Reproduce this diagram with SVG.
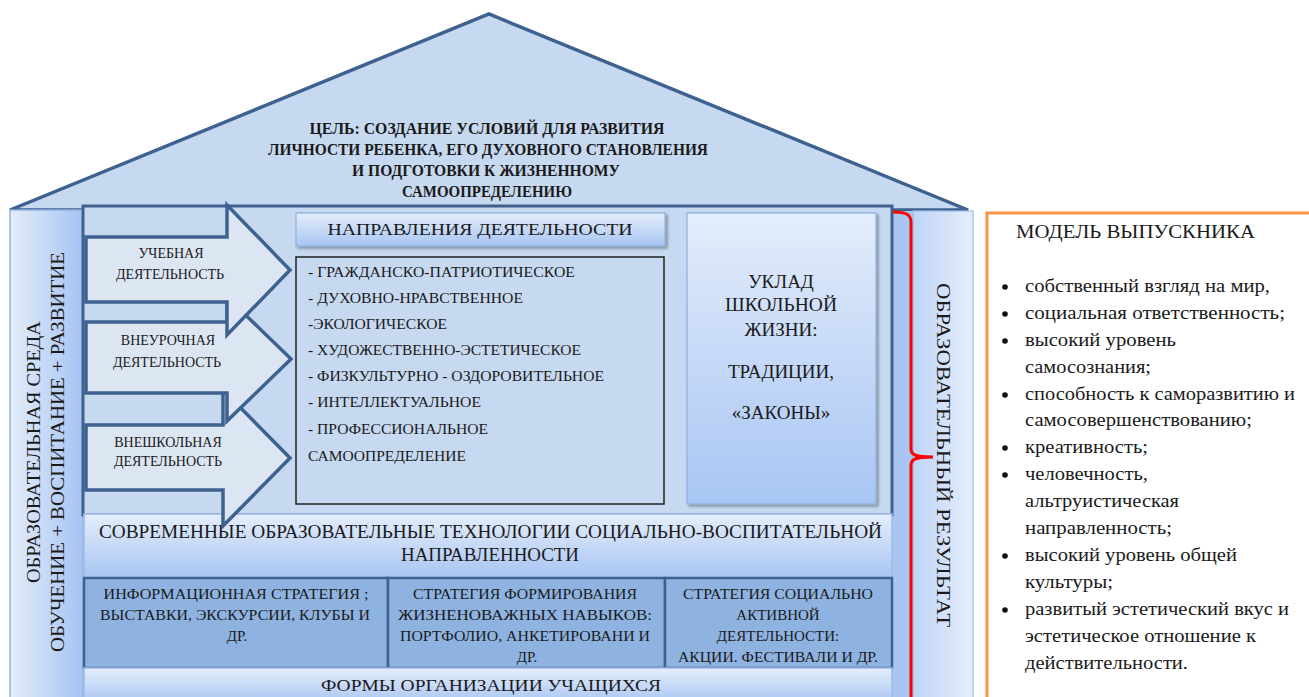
<svg xmlns="http://www.w3.org/2000/svg" width="1309" height="697" viewBox="0 0 1309 697" font-family="'Liberation Serif', 'DejaVu Serif', 'Times New Roman', serif">
<defs>
<linearGradient id="gV" x1="0" y1="0" x2="0" y2="1"><stop offset="0" stop-color="#e4edfb"/><stop offset="1" stop-color="#a8c5f3"/></linearGradient>
<linearGradient id="gL" x1="0" y1="0" x2="1" y2="0"><stop offset="0" stop-color="#e4edfa"/><stop offset="1" stop-color="#a6c3f2"/></linearGradient>
<linearGradient id="gR" x1="0" y1="0" x2="1" y2="0"><stop offset="0" stop-color="#bfd4f6"/><stop offset="1" stop-color="#e5eefb"/></linearGradient>
<filter id="sh" x="-10%" y="-10%" width="130%" height="130%"><feDropShadow dx="2" dy="2" stdDeviation="1.5" flood-color="#000" flood-opacity="0.35"/></filter>
<style>
text{font-family:'Liberation Serif','DejaVu Serif','Times New Roman',serif;fill:#1a1a1a}
.c{text-anchor:middle}
.arrow{fill:#dce6f3;stroke:#3e6190;stroke-width:3.5;stroke-linejoin:miter}
.lb{stroke:#9dbbe6;stroke-width:1.5}
.cell{fill:#8eb3e1;stroke:#3e6190;stroke-width:2.5}
.t14{font-size:14px}
.t15{font-size:15px}
.t18{font-size:18px}
.t19{font-size:19px}
.li{font-size:18px}
.roof{font-size:16px;font-weight:bold}
</style>
</defs>
<rect width="1309" height="697" fill="#ffffff"/>

<g id="roof">
<polygon points="10,210 489,14 968,210" fill="#c6d9f0" stroke="#3e6190" stroke-width="3.5" stroke-linejoin="miter"/>
<text class="c roof" x="487" y="134" textLength="355" lengthAdjust="spacingAndGlyphs">ЦЕЛЬ: СОЗДАНИЕ  УСЛОВИЙ ДЛЯ РАЗВИТИЯ</text>
<text class="c roof" x="488" y="155" textLength="440" lengthAdjust="spacingAndGlyphs">ЛИЧНОСТИ РЕБЕНКА, ЕГО ДУХОВНОГО СТАНОВЛЕНИЯ</text>
<text class="c roof" x="486" y="176" textLength="268" lengthAdjust="spacingAndGlyphs">И ПОДГОТОВКИ К ЖИЗНЕННОМУ</text>
<text class="c roof" x="487" y="197" textLength="170" lengthAdjust="spacingAndGlyphs">САМООПРЕДЕЛЕНИЮ</text>
</g>

<g id="left-column">
<rect x="10" y="210" width="73" height="495" fill="url(#gL)" stroke="#93b3e0" stroke-width="1.5"/>
<text class="c t18" transform="translate(40,452) rotate(-90)" textLength="262" lengthAdjust="spacingAndGlyphs">ОБРАЗОВАТЕЛЬНАЯ СРЕДА</text>
<text class="c t18" transform="translate(64,452) rotate(-90)" textLength="400" lengthAdjust="spacingAndGlyphs">ОБУЧЕНИЕ  + ВОСПИТАНИЕ + РАЗВИТИЕ</text>
</g>

<g id="right-column">
<rect x="891" y="211" width="22" height="494" fill="#a9c6f3"/>
<rect x="913" y="211" width="60" height="494" fill="url(#gR)" stroke="#9dbbe6" stroke-width="1.2"/>
<text class="c t19" transform="translate(937,455) rotate(90)" textLength="344" lengthAdjust="spacingAndGlyphs">ОБРАЗОВАТЕЛЬНЫЙ РЕЗУЛЬТАТ</text>
</g>

<g id="main-box">
<rect x="83" y="206" width="809" height="309" fill="#c6d9f0" stroke="#3e6190" stroke-width="3"/>
</g>

<g id="technologies">
<rect x="84" y="514" width="808" height="64" fill="url(#gV)" class="lb"/>
<text class="t18" x="99" y="538" textLength="783" lengthAdjust="spacingAndGlyphs">СОВРЕМЕННЫЕ ОБРАЗОВАТЕЛЬНЫЕ ТЕХНОЛОГИИ  СОЦИАЛЬНО-ВОСПИТАТЕЛЬНОЙ</text>
<text class="c t18" x="490" y="561" textLength="178" lengthAdjust="spacingAndGlyphs">НАПРАВЛЕННОСТИ</text>
</g>

<g id="strategy-info">
<rect class="cell" x="84" y="578" width="304" height="90"/>
<text class="c t15" x="236" y="599" textLength="265" lengthAdjust="spacingAndGlyphs">ИНФОРМАЦИОННАЯ СТРАТЕГИЯ ;</text>
<text class="c t15" x="235" y="620" textLength="270" lengthAdjust="spacingAndGlyphs">ВЫСТАВКИ, ЭКСКУРСИИ, КЛУБЫ И</text>
<text class="c t15" x="237" y="641">ДР.</text>
</g>
<g id="strategy-skills">
<rect class="cell" x="388" y="578" width="277" height="90"/>
<text class="c t15" x="525" y="599" textLength="224" lengthAdjust="spacingAndGlyphs">СТРАТЕГИЯ ФОРМИРОВАНИЯ</text>
<text class="c t15" x="525" y="620" textLength="254" lengthAdjust="spacingAndGlyphs">ЖИЗНЕНОВАЖНЫХ НАВЫКОВ:</text>
<text class="c t15" x="525" y="641" textLength="250" lengthAdjust="spacingAndGlyphs">ПОРТФОЛИО, АНКЕТИРОВАНИ И</text>
<text class="c t15" x="527" y="662">ДР.</text>
</g>
<g id="strategy-social">
<rect class="cell" x="665" y="578" width="227" height="90"/>
<text class="c t15" x="778" y="599" textLength="190" lengthAdjust="spacingAndGlyphs">СТРАТЕГИЯ СОЦИАЛЬНО</text>
<text class="c t15" x="778" y="620">АКТИВНОЙ</text>
<text class="c t15" x="778" y="641">ДЕЯТЕЛЬНОСТИ:</text>
<text class="c t15" x="778" y="662" textLength="200" lengthAdjust="spacingAndGlyphs">АКЦИИ. ФЕСТИВАЛИ И ДР.</text>
</g>

<g id="forms">
<rect x="84" y="668" width="808" height="36" fill="url(#gV)" class="lb"/>
<text class="c" font-size="17" x="491" y="691" textLength="340" lengthAdjust="spacingAndGlyphs">ФОРМЫ  ОРГАНИЗАЦИИ УЧАЩИХСЯ</text>
</g>

<g id="arrow-vneshkolnaya">
<path class="arrow" d="M86,425 H223 V390 L290,458 L223,526 V490 H86 Z"/>
<text class="c t14" x="168" y="447">ВНЕШКОЛЬНАЯ</text>
<text class="c t14" x="168" y="466">ДЕЯТЕЛЬНОСТЬ</text>
</g>
<g id="arrow-vneurochnaya">
<path class="arrow" d="M86,322 H227 V297 L291,359 L227,421 V393 H86 Z"/>
<text class="c t14" x="168" y="345">ВНЕУРОЧНАЯ</text>
<text class="c t14" x="167" y="367">ДЕЯТЕЛЬНОСТЬ</text>
</g>
<g id="arrow-uchebnaya">
<path class="arrow" d="M86,237 H227 V205 L290,270 L227,335 V302 H86 Z"/>
<text class="c t14" x="171" y="258">УЧЕБНАЯ</text>
<text class="c t14" x="170" y="279">ДЕЯТЕЛЬНОСТЬ</text>
</g>

<g id="napravleniya">
<rect x="296" y="213" width="369" height="33" fill="url(#gV)" stroke="#8fb0dc" stroke-width="1.2" filter="url(#sh)"/>
<text class="c" font-size="17.5" x="480" y="235" textLength="305" lengthAdjust="spacingAndGlyphs">НАПРАВЛЕНИЯ  ДЕЯТЕЛЬНОСТИ</text>
</g>

<g id="napravleniya-list">
<rect x="296" y="257" width="368" height="247" fill="#c6d9f0" stroke="#222" stroke-width="1.5"/>
<text class="t14" x="308" y="277" textLength="267" lengthAdjust="spacingAndGlyphs">- ГРАЖДАНСКО-ПАТРИОТИЧЕСКОЕ</text>
<text class="t14" x="308" y="303" textLength="215" lengthAdjust="spacingAndGlyphs">- ДУХОВНО-НРАВСТВЕННОЕ</text>
<text class="t14" x="308" y="329" textLength="139" lengthAdjust="spacingAndGlyphs">-ЭКОЛОГИЧЕСКОЕ</text>
<text class="t14" x="308" y="355" textLength="273" lengthAdjust="spacingAndGlyphs">- ХУДОЖЕСТВЕННО-ЭСТЕТИЧЕСКОЕ</text>
<text class="t14" x="308" y="381" textLength="296" lengthAdjust="spacingAndGlyphs">- ФИЗКУЛЬТУРНО - ОЗДОРОВИТЕЛЬНОЕ</text>
<text class="t14" x="308" y="407" textLength="173" lengthAdjust="spacingAndGlyphs">- ИНТЕЛЛЕКТУАЛЬНОЕ</text>
<text class="t14" x="308" y="434" textLength="180" lengthAdjust="spacingAndGlyphs">- ПРОФЕССИОНАЛЬНОЕ</text>
<text class="t14" x="308" y="461" textLength="158" lengthAdjust="spacingAndGlyphs">САМООПРЕДЕЛЕНИЕ</text>
</g>

<g id="uklad">
<rect x="687" y="213" width="189" height="291" fill="url(#gV)" stroke="#8fb0dc" stroke-width="1.2" filter="url(#sh)"/>
<text class="c t19" x="781" y="288">УКЛАД</text>
<text class="c t19" x="781" y="311" textLength="112" lengthAdjust="spacingAndGlyphs">ШКОЛЬНОЙ</text>
<text class="c t19" x="781" y="336">ЖИЗНИ:</text>
<text class="c t19" x="781" y="378">ТРАДИЦИИ,</text>
<text class="c t19" x="781" y="419">«ЗАКОНЫ»</text>
</g>

<g id="connectors">
<path d="M893,212 C905,212 911,214 911,222 L911,449 C911,455 916,457 933,457 C916,457 911,459 911,465 L911,697" fill="none" stroke="#ff0000" stroke-width="3"/>
</g>

<g id="graduate-model">
<rect x="987" y="213" width="340" height="500" fill="#ffffff" stroke="#f79646" stroke-width="3"/>
<text class="t19" x="1016" y="238" textLength="239" lengthAdjust="spacingAndGlyphs">МОДЕЛЬ ВЫПУСКНИКА</text>
<g fill="#111">
<circle cx="1005" cy="287" r="2.8"/>
<circle cx="1005" cy="314" r="2.8"/>
<circle cx="1005" cy="341" r="2.8"/>
<circle cx="1005" cy="395" r="2.8"/>
<circle cx="1005" cy="448" r="2.8"/>
<circle cx="1005" cy="475" r="2.8"/>
<circle cx="1005" cy="556" r="2.8"/>
<circle cx="1005" cy="610" r="2.8"/>
</g>
<text class="li" x="1025" y="292" textLength="245" lengthAdjust="spacingAndGlyphs">собственный взгляд на мир,</text>
<text class="li" x="1025" y="319" textLength="260" lengthAdjust="spacingAndGlyphs">социальная  ответственность;</text>
<text class="li" x="1025" y="346" textLength="151" lengthAdjust="spacingAndGlyphs">высокий уровень</text>
<text class="li" x="1025" y="373" textLength="126" lengthAdjust="spacingAndGlyphs">самосознания;</text>
<text class="li" x="1025" y="400" textLength="270" lengthAdjust="spacingAndGlyphs">способность к саморазвитию и</text>
<text class="li" x="1025" y="426" textLength="227" lengthAdjust="spacingAndGlyphs">самосовершенствованию;</text>
<text class="li" x="1025" y="453" textLength="123" lengthAdjust="spacingAndGlyphs">креативность;</text>
<text class="li" x="1025" y="480" textLength="123" lengthAdjust="spacingAndGlyphs">человечность,</text>
<text class="li" x="1025" y="507" textLength="154" lengthAdjust="spacingAndGlyphs">альтруистическая</text>
<text class="li" x="1025" y="534" textLength="147" lengthAdjust="spacingAndGlyphs">направленность;</text>
<text class="li" x="1025" y="561" textLength="212" lengthAdjust="spacingAndGlyphs">высокий уровень общей</text>
<text class="li" x="1025" y="588" textLength="88" lengthAdjust="spacingAndGlyphs">культуры;</text>
<text class="li" x="1025" y="615" textLength="264" lengthAdjust="spacingAndGlyphs">развитый эстетический вкус и</text>
<text class="li" x="1025" y="642" textLength="231" lengthAdjust="spacingAndGlyphs">эстетическое отношение к</text>
<text class="li" x="1025" y="669" textLength="163" lengthAdjust="spacingAndGlyphs">действительности.</text>
</g>
</svg>
